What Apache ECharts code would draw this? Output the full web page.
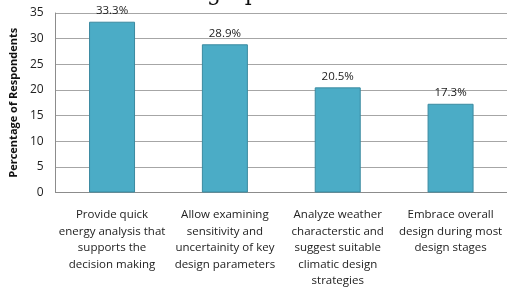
<!DOCTYPE html>
<html>
<head>
<meta charset="utf-8">
<style>
  html, body { margin: 0; padding: 0; background: #fff; }
  #chart { width: 507px; height: 289px; }
</style>
<script src="https://cdn.jsdelivr.net/npm/echarts@6/dist/echarts.min.js"></script>
</head>
<body>
<div id="chart"></div>
<script>
  const categories = [
    "Provide quick\nenergy analysis that\nsupports the\ndecision making",
    "Allow examining\nsensitivity and\nuncertainity of key\ndesign parameters",
    "Analyze weather\ncharacterstic and\nsuggest suitable\nclimatic design\nstrategies",
    "Embrace overall\ndesign during most\ndesign stages"
  ];
  const percentages = [33.3, 28.9, 20.5, 17.3];
  const yTicks = { min: 0, max: 35, interval: 5 };

  const chart = echarts.init(document.getElementById("chart"), null, { renderer: "canvas" });
  const font = "'Open Sans', 'Noto Sans', sans-serif";

  chart.setOption({
    animation: false,
    grid: { left: 55, right: -2, top: 13, bottom: 95, containLabel: false },
    graphic: [
      {
        type: "text",
        left: 207,
        top: -17,
        style: { text: "graph", font: "22px 'DejaVu Serif', 'Liberation Serif', serif", fill: "#111" }
      }
    ],
    xAxis: {
      type: "category",
      data: categories,
      axisLine: { lineStyle: { color: "#8c8c8c", width: 1 } },
      axisTick: { show: false },
      axisLabel: {
        interval: 0,
        margin: 14,
        fontFamily: font,
        fontSize: 11.5,
        lineHeight: 16.5,
        color: "#222",
        align: "center"
      }
    },
    yAxis: {
      type: "value",
      min: yTicks.min,
      max: yTicks.max,
      interval: yTicks.interval,
      name: "Percentage of Respondents",
      nameLocation: "middle",
      nameGap: 28,
      nameTextStyle: { fontFamily: font, fontSize: 11, fontWeight: "bold", color: "#111" },
      axisLine: { show: true, lineStyle: { color: "#8c8c8c", width: 1 } },
      axisTick: { show: false },
      splitLine: { lineStyle: { color: "#a6a6a6", width: 1 } },
      axisLabel: { margin: 12, fontFamily: font, fontSize: 12, color: "#222" }
    },
    series: [
      {
        type: "bar",
        data: percentages,
        barWidth: 46,
        itemStyle: { color: "#4bacc6", borderColor: "#3b8aa0", borderWidth: 1 },
        label: {
          show: true,
          position: "top",
          distance: 5,
          formatter: (p) => p.value.toFixed(1) + "%",
          fontFamily: font,
          fontSize: 11.5,
          color: "#222"
        }
      }
    ]
  });
</script>
</body>
</html>
